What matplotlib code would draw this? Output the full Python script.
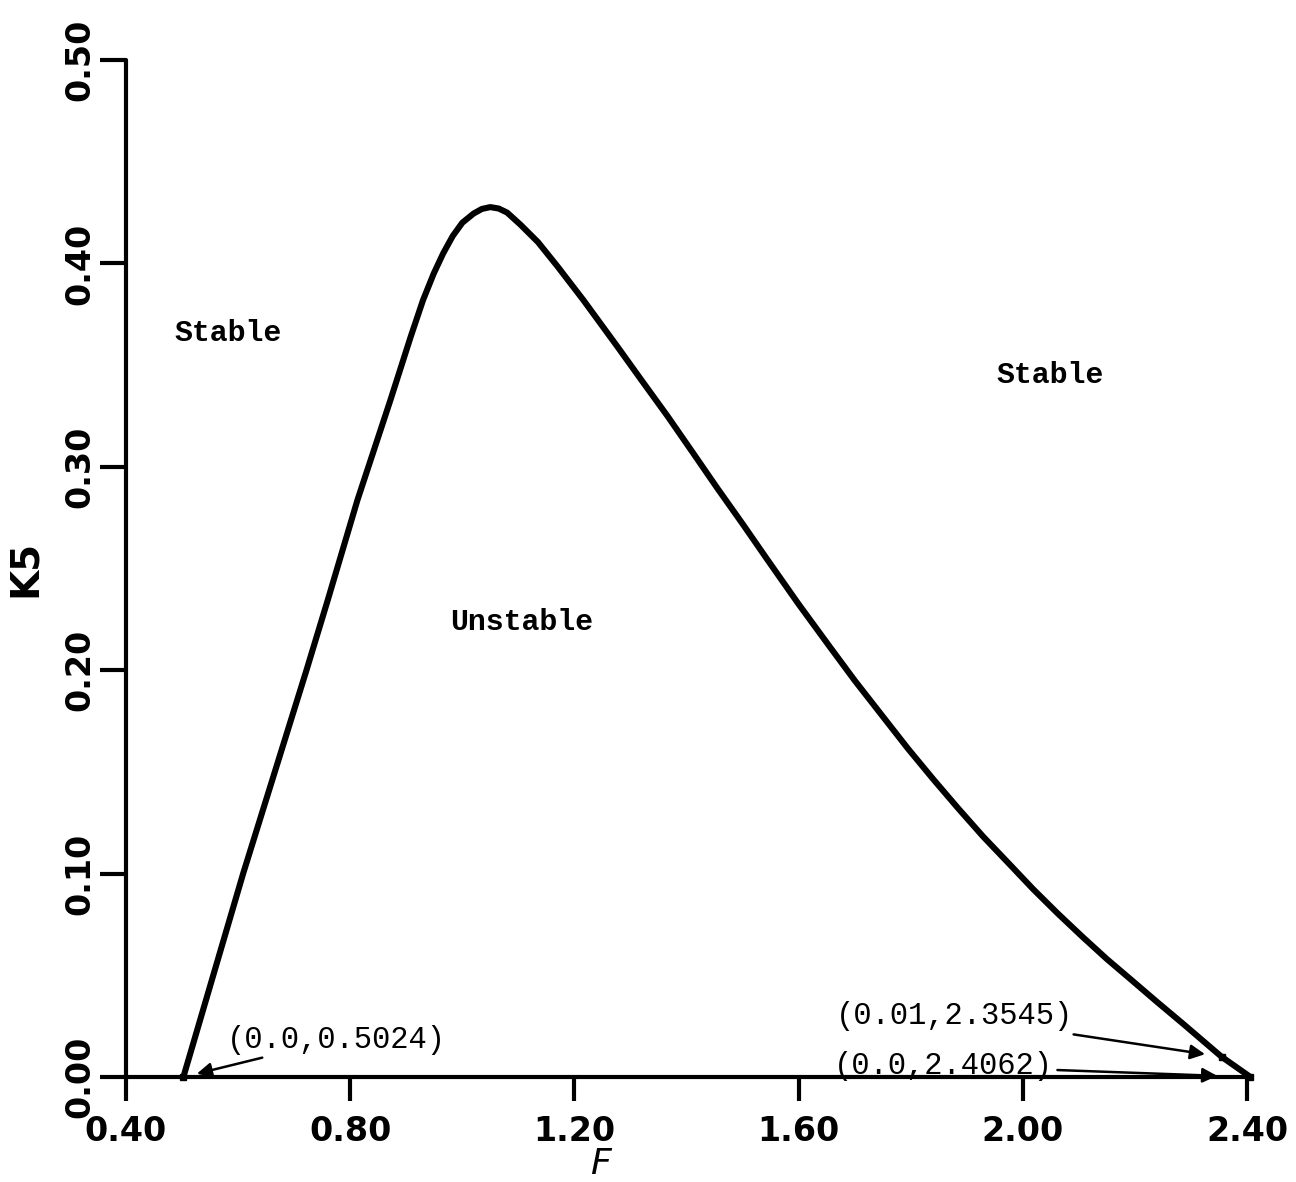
import numpy as np
import matplotlib
matplotlib.use("Agg")
import matplotlib.pyplot as plt

# Stability boundary K5(F)
F_vals = [0.5024, 0.609, 0.722, 0.760, 0.813, 0.872, 0.908, 0.930, 0.949, 0.966,
          0.983, 1.000, 1.020, 1.035, 1.050, 1.065, 1.080, 1.104, 1.135, 1.170,
          1.216, 1.277, 1.320, 1.366, 1.410, 1.455, 1.500, 1.544, 1.600, 1.656,
          1.700, 1.751, 1.795, 1.840, 1.885, 1.929, 1.975, 2.018, 2.062, 2.107,
          2.150, 2.196, 2.240, 2.285, 2.3545, 2.4062]
K5_vals = [0.0, 0.100, 0.200, 0.2345, 0.2837, 0.333, 0.364, 0.382, 0.395, 0.405,
           0.4135, 0.4200, 0.4245, 0.4268, 0.4277, 0.4270, 0.4250, 0.4190, 0.4105, 0.3985,
           0.382, 0.359, 0.3425, 0.325, 0.3075, 0.2895, 0.2720, 0.2545, 0.2325, 0.2114,
           0.1950, 0.1770, 0.1615, 0.1465, 0.1320, 0.1183, 0.1050, 0.0925, 0.0805, 0.0688,
           0.0580, 0.0472, 0.0368, 0.0264, 0.0100, 0.0]

x_ticks = [0.40, 0.80, 1.20, 1.60, 2.00, 2.40]
y_ticks = [0.00, 0.10, 0.20, 0.30, 0.40, 0.50]

# labelled points on the boundary: (K5, F)
marked_K5 = [0.0, 0.01, 0.0]
marked_F = [0.5024, 2.3545, 2.4062]

fig = plt.figure(figsize=(12.96, 11.82), dpi=100)
ax = fig.add_axes([0.0972, 0.0888, 0.8650, 0.8604])

ax.plot(F_vals, K5_vals, color="black", lw=4.4, solid_capstyle="round",
        solid_joinstyle="round", clip_on=False)
ax.plot(marked_F, marked_K5, ls="none", marker="s", ms=5, color="black", clip_on=False)

ax.set_xlim(0.40, 2.40)
ax.set_ylim(0.0, 0.50)
for s in ("top", "right"):
    ax.spines[s].set_visible(False)
for s in ("left", "bottom"):
    ax.spines[s].set_linewidth(3.0)
    ax.spines[s].set_capstyle("round")

ax.set_xticks(x_ticks)
ax.set_yticks(y_ticks)
ax.set_xticklabels([f"{v:.2f}" for v in x_ticks], fontsize=24, fontweight="bold")
ax.set_yticklabels([f"{v:.2f}" for v in y_ticks], fontsize=24, fontweight="bold",
                   rotation=90, va="center")
ax.tick_params(axis="x", direction="out", length=17, width=3, pad=10)
ax.tick_params(axis="y", direction="out", length=19, width=3, pad=2)

ax.set_xlabel("F", fontsize=26, style="italic", va="center")
ax.xaxis.set_label_coords(0.423, -0.0855)
ax.set_ylabel("K5", fontsize=28, fontweight="bold", labelpad=14)

mono = "Liberation Mono"
ax.text(0.583, 0.3657, "Stable", fontsize=21.5, family=mono, fontweight="bold",
        ha="center", va="center")
ax.text(2.048, 0.345, "Stable", fontsize=21.5, family=mono, fontweight="bold",
        ha="center", va="center")
ax.text(1.106, 0.2237, "Unstable", fontsize=21.5, family=mono, fontweight="bold",
        ha="center", va="center")

arrow = dict(arrowstyle="-|>", color="black", lw=1.8, mutation_scale=22)
notes = [
    ("(0.0,0.5024)", (31, 27), "left", 10),
    ("(0.01,2.3545)", (-107, 29), "right", 12),
    ("(0.0,2.4062)", (-142, 8), "right", 24),
]
for (label, off, ha, shrink), k, f in zip(notes, marked_K5, marked_F):
    ax.annotate(label, xy=(f, k), xytext=off, textcoords="offset points",
                fontsize=22, family=mono, ha=ha, va="center",
                annotation_clip=False,
                arrowprops=dict(arrow, shrinkA=1, shrinkB=shrink))

fig.savefig("out.png", dpi=100)
